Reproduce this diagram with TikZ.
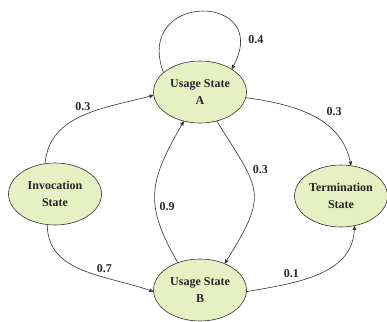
\documentclass[tikz,border=0pt]{standalone}
\usepackage{fontspec}
\setmainfont{Liberation Serif}
\usepackage{xcolor}
\usetikzlibrary{arrows, shapes.geometric}
\definecolor{statefill}{HTML}{E7F0C2}
\definecolor{lineclr}{HTML}{333333}
\tikzset{
    ->, % makes the edges directed
    >=stealth', % small filled arrow heads
    every edge/.append style={draw=lineclr, line width=0.6pt},
    prob/.style={font=\bfseries\fontsize{12}{14}\selectfont, text=black!85, inner sep=2pt}, % edge labels
    mstate/.style={ellipse, draw=black!80, line width=0.6pt, fill=statefill, minimum width=93pt, minimum height=62pt,
        inner sep=0pt, align=center, font=\bfseries\fontsize{12}{16.5}\selectfont, text=black!85},
}

\begin{document}
\begin{tikzpicture}[x=1pt, y=-1pt]
            \useasboundingbox (0,0) rectangle (387,321);

            \node[mstate] (inv) at (55,194) {Invocation\\State};
            \node[mstate] (usa) at (200,92) {Usage State\\A};
            \node[mstate] (usb) at (200,290) {Usage State\\B};
            \node[mstate] (term) at (341,196) {Termination\\State};

            \path
                (usa.152) edge[out=110, in=60, distance=88pt]
                    node[prob, pos=0.85, right=6pt] {0.4} (usa.36)
                (inv.108) edge[out=85, in=195]
                    node[prob, pos=0.5, above=3pt] {0.3} (usa.184)
                (usa.-7) edge[out=-8, in=100]
                    node[prob, pos=0.6, above right, yshift=5pt] {0.3} (term.72)
                (usa.-60) edge[out=-58, in=58, looseness=1.5]
                    node[prob, pos=0.3, right=4pt] {0.3} (usb.47)
                (usb.129) edge[out=120, in=-120, looseness=1.25]
                    node[prob, pos=0.38, right=2pt] {0.9} (usa.-119)
                (inv.-104) edge[out=-90, in=160]
                    node[prob, pos=0.66, above=3pt] {0.7} (usb.182)
                (usb.-2) edge[out=10, in=-90]
                    node[prob, pos=0.3, above=3pt] {0.1} (term.-66);
        \end{tikzpicture}
\end{document}
